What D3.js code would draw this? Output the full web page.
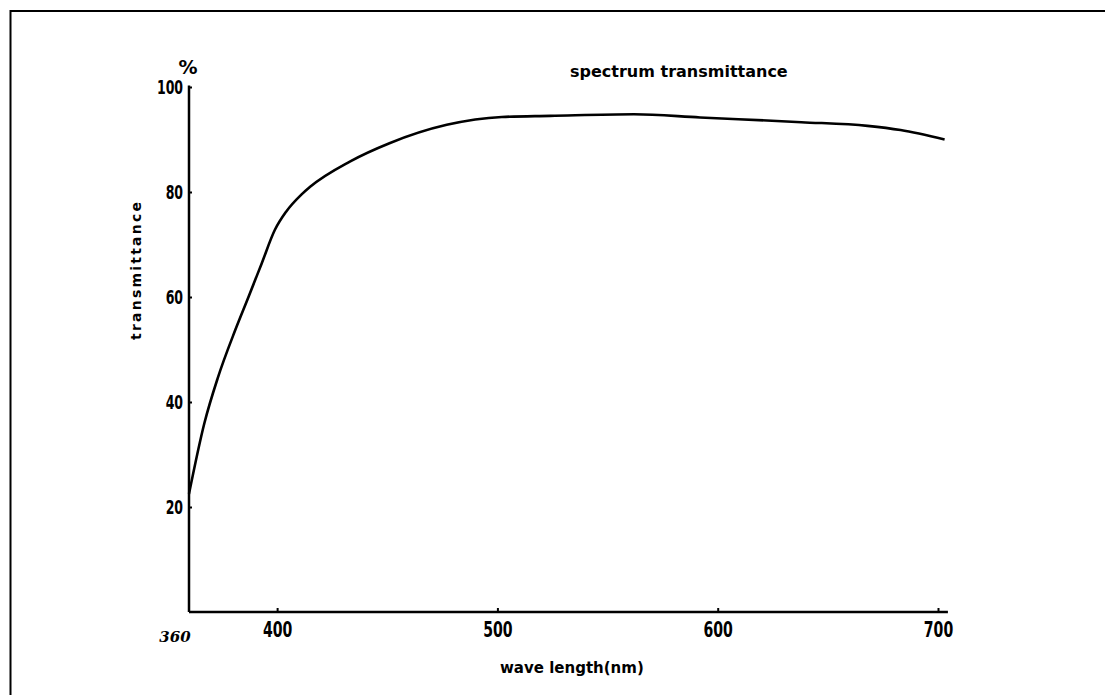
<!DOCTYPE html>
<html><head><meta charset="utf-8">
<script src="https://cdn.jsdelivr.net/npm/d3@7"></script>
<style>body{margin:0;background:#fff}svg{display:block}</style>
</head><body><svg id="c" width="1105" height="695"></svg>
<script>
const wavelengths = [360, 367, 373, 381, 387, 393, 399, 404, 411, 415, 433, 451, 477, 502, 524, 562, 592, 638, 668, 683, 703];
const transmittance = [22.5, 36, 44.5, 53.7, 60, 66.4, 72.8, 76.2, 79.5, 81, 85.8, 89.3, 92.8, 94.3, 94.5, 94.8, 94.2, 93.3, 92.6, 91.8, 90.0];
const xTicks = [400, 500, 600, 700];
const yTicks = [20, 40, 60, 80, 100];
const titleText = "spectrum transmittance";
const xTitle = "wave length(nm)";
const yTitle = "transmittance";
const yUnit = "%";
const xStartLabel = "360";

const svg = d3.select("#c");
const x = d3.scaleLinear().domain([360, 700]).range([189, 938]);
const y = d3.scaleLinear().domain([0, 100]).range([612, 87]);
const lblFont = "'DejaVu Sans',sans-serif";

// frame (top and left only)
svg.append("line").attr("x1",10).attr("y1",11).attr("x2",1105).attr("y2",11).attr("stroke","#000").attr("stroke-width",2);
svg.append("line").attr("x1",10.5).attr("y1",10).attr("x2",10.5).attr("y2",695).attr("stroke","#000").attr("stroke-width",2);

// axes
const xAxis = d3.axisBottom(x).tickValues(xTicks).tickSizeInner(-4).tickSizeOuter(0).tickPadding(9).tickFormat(d3.format("d"));
const gx = svg.append("g").attr("transform",`translate(0,${y(0)})`).call(xAxis);
gx.select(".domain").attr("d", `M${x(360)},0H${x(704.5)}`).attr("stroke-width",2.5);
gx.selectAll(".tick line").attr("stroke-width",2);
gx.selectAll(".tick text").attr("font-family",lblFont).attr("font-weight","bold").attr("font-size",22).attr("fill","#000").attr("dy","0.72em")
  .attr("transform","scale(0.64,1)");

const yAxis = d3.axisLeft(y).tickValues(yTicks).tickSizeInner(-3).tickSizeOuter(0).tickPadding(8).tickFormat(d3.format("d"));
const gy = svg.append("g").attr("transform",`translate(${x(360)},0)`).call(yAxis);
gy.select(".domain").attr("d", `M0,${y(100.3)}V${y(0)}`).attr("stroke-width",2.5);
gy.selectAll(".tick line").attr("stroke-width",2);
gy.selectAll(".tick text").attr("font-family",lblFont).attr("font-weight","bold").attr("font-size",19).attr("fill","#000").attr("x",-9)
  .attr("transform","scale(0.66,1)");

// start label
svg.append("text").attr("x",x(360)-14).attr("y",y(0)+30).attr("text-anchor","middle")
  .attr("font-family","'DejaVu Serif',serif").attr("font-style","italic").attr("font-weight","bold").attr("font-size",15).text(xStartLabel);

// curve
const line = d3.line().x((d,i)=>x(wavelengths[i])).y(d=>y(d)).curve(d3.curveMonotoneX);
svg.append("path").datum(transmittance).attr("d",line).attr("fill","none").attr("stroke","#000").attr("stroke-width",2.6);

// titles
svg.append("text").attr("x",570).attr("y",77).attr("font-family","'DejaVu Sans',sans-serif").attr("font-weight","bold").attr("font-size",16).text(titleText);
svg.append("text").attr("x",500).attr("y",673).attr("font-family","'DejaVu Sans',sans-serif").attr("font-weight","bold").attr("font-size",15).text(xTitle);
svg.append("text").attr("transform","translate(141,271) rotate(-90)").attr("text-anchor","middle").attr("font-family","'DejaVu Sans',sans-serif").attr("font-weight","bold").attr("font-size",14)
  .attr("textLength",138).attr("lengthAdjust","spacing").text(yTitle);
svg.append("text").attr("x",188).attr("y",74).attr("text-anchor","middle").attr("font-family",lblFont).attr("font-weight","bold").attr("font-size",19).text(yUnit);
</script></body></html>
